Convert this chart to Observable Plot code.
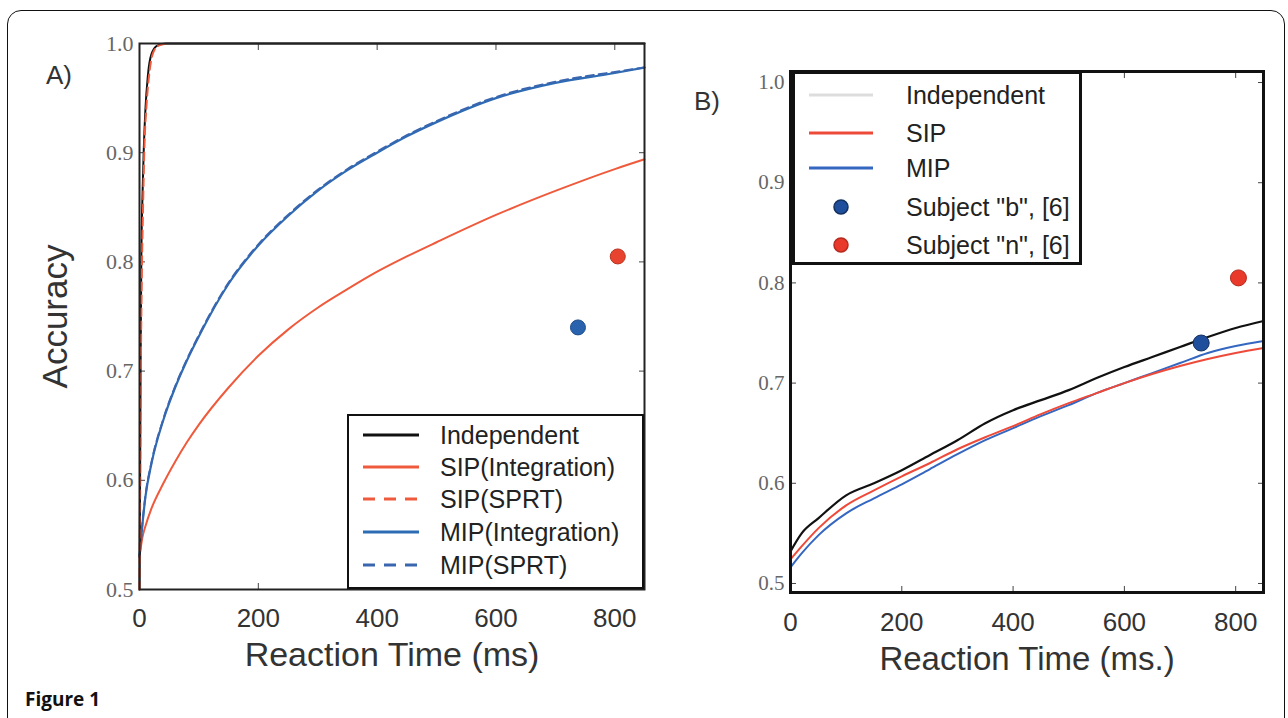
<!DOCTYPE html>
<html><head><meta charset="utf-8">
<script src="https://cdn.jsdelivr.net/npm/d3@7"></script>
<script src="https://cdn.jsdelivr.net/npm/@observablehq/plot@0.6"></script>
<style>
html,body{margin:0;padding:0;background:#fff;}
body{width:1288px;height:718px;overflow:hidden;position:relative;font-family:"Liberation Sans",Arial,sans-serif;}
#frame{position:absolute;left:7px;top:10px;width:1276px;height:800px;border:1.5px solid #111;border-radius:14px;}
#a,#b{position:absolute;top:0}
#a{left:0}
#b{left:660px}
.plab{position:absolute;font-size:26px;color:#333;}
.legend{position:absolute;background:#fff;box-sizing:border-box;}
.row{position:absolute;left:0;height:30px;width:100%;}
.row svg{position:absolute;top:0}
.row span{position:absolute;top:0;line-height:30px;font-size:25px;color:#222;white-space:nowrap;}
#cap{position:absolute;left:25px;top:686px;font-family:"Open Sans",sans-serif;font-weight:bold;font-size:19px;color:#111;}
</style>
</head><body>
<div id="frame"></div>
<div id="a"></div>
<div id="b"></div>
<div class="plab" style="left:46px;top:60px;">A)</div>
<div class="plab" style="left:694px;top:86px;">B)</div>
<div id="legA" class="legend"></div>
<div id="legB" class="legend"></div>
<div id="cap">Figure 1</div>
<script>
// ---------- Panel A data ----------
const indepT_A   = [0, 1, 2, 3, 5, 7, 10, 14, 20, 30, 45, 850];
const indepAcc_A = [0.5, 0.6, 0.72, 0.8, 0.86, 0.9, 0.94, 0.97, 0.99, 0.998, 1.0, 1.0];
const sipSprtT_A   = [0, 1, 2, 4, 6, 8, 12, 16, 22, 32, 50];
const sipSprtAcc_A = [0.5, 0.58, 0.68, 0.79, 0.85, 0.9, 0.945, 0.97, 0.99, 0.998, 1.0];
const curveT_A = [0, 5, 10, 20, 40, 60, 80, 100, 150, 200, 250, 300, 350, 400, 450, 500, 600, 700, 800, 850];
const sipIntAcc_A = [0.53, 0.548, 0.558, 0.574, 0.597, 0.617, 0.635, 0.651, 0.685, 0.714, 0.738, 0.758, 0.775, 0.791, 0.805, 0.818, 0.843, 0.865, 0.885, 0.894];
const mipIntAcc_A = [0.53, 0.56, 0.585, 0.615, 0.655, 0.685, 0.71, 0.732, 0.78, 0.815, 0.842, 0.865, 0.884, 0.9, 0.915, 0.928, 0.95, 0.964, 0.973, 0.978];
const mipSprtAcc_A = [0.53, 0.561, 0.586, 0.616, 0.656, 0.686, 0.711, 0.733, 0.781, 0.816, 0.843, 0.866, 0.885, 0.901, 0.916, 0.929, 0.951, 0.965, 0.974, 0.978];

// ---------- Panel B data ----------
const curveT_B = [0, 20, 50, 100, 150, 200, 250, 300, 350, 400, 450, 500, 550, 600, 650, 700, 750, 800, 850];
const indepAcc_B = [0.532, 0.55, 0.565, 0.588, 0.6, 0.613, 0.628, 0.643, 0.66, 0.673, 0.683, 0.693, 0.705, 0.716, 0.726, 0.736, 0.746, 0.755, 0.762];
const sipAcc_B   = [0.524, 0.537, 0.555, 0.578, 0.593, 0.607, 0.62, 0.634, 0.646, 0.657, 0.669, 0.68, 0.69, 0.7, 0.709, 0.717, 0.724, 0.73, 0.735];
const mipAcc_B   = [0.516, 0.53, 0.548, 0.57, 0.585, 0.599, 0.614, 0.629, 0.643, 0.655, 0.667, 0.678, 0.69, 0.7, 0.71, 0.72, 0.73, 0.737, 0.742];

// ---------- Subjects ----------
const subjects = ["b", "n"];
const subjectRT = [738, 805];
const subjectAcc = [0.74, 0.805];

// ---------- Ticks ----------
const xTicks = [0, 200, 400, 600, 800];
const yTicks = [0.5, 0.6, 0.7, 0.8, 0.9, 1.0];

const toRows = (T, A) => T.map((t, i) => ({t, acc: A[i]}));
const subj = subjects.map((s, i) => ({s, t: subjectRT[i], acc: subjectAcc[i]}));

const red = "#ef5a3c", blue = "#2d6cb4", black = "#111";

function axes(fontTick, serifSize, pad) {
  return [
    Plot.axisY({ticks: yTicks, tickSize: 0, tickPadding: 6, tickFormat: d3.format(".1f"),
      fontSize: serifSize, fontFamily: "Liberation Serif, serif", fill: "#666", label: null}),
    Plot.axisY({anchor: "left", ticks: yTicks, tickSize: 6, text: null, dx: 6, stroke: "#444", label: null}),
    Plot.axisY({anchor: "right", ticks: yTicks, tickSize: 6, text: null, dx: -6, stroke: "#444", label: null}),
    Plot.axisX({ticks: xTicks, tickSize: 0, tickPadding: pad, fontSize: fontTick, fill: "#333", label: null}),
    Plot.axisX({anchor: "bottom", ticks: xTicks, tickSize: 6, text: null, dy: -6, stroke: "#444", label: null}),
    Plot.axisX({anchor: "top", ticks: xTicks, tickSize: 6, text: null, dy: 6, stroke: "#444", label: null})
  ];
}

const plotA = Plot.plot({
  width: 660, height: 690,
  marginLeft: 139, marginRight: 16, marginTop: 43, marginBottom: 101,
  x: {domain: [0, 850]},
  y: {domain: [0.5, 1.0]},
  style: {background: "transparent", overflow: "visible", fontFamily: "Liberation Sans, Arial, sans-serif"},
  marks: [
    ...axes(26, 22, 19),
    Plot.line(toRows(curveT_A, sipIntAcc_A), {x: "t", y: "acc", stroke: red, strokeWidth: 2, curve: "monotone-x"}),
    Plot.line(toRows(curveT_A, mipIntAcc_A), {x: "t", y: "acc", stroke: blue, strokeWidth: 2.2, curve: "monotone-x"}),
    Plot.line(toRows(curveT_A, mipSprtAcc_A), {x: "t", y: "acc", stroke: "#3a66b0", strokeWidth: 2, strokeDasharray: "8,5", curve: "monotone-x"}),
    Plot.line(toRows(indepT_A, indepAcc_A), {x: "t", y: "acc", stroke: black, strokeWidth: 2, curve: "monotone-x"}),
    Plot.line(toRows(sipSprtT_A, sipSprtAcc_A), {x: "t", y: "acc", stroke: red, strokeWidth: 2, strokeDasharray: "8,5", curve: "monotone-x"}),
    Plot.dot(subj, {x: "t", y: "acc", r: 7.5, fill: d => d.s === "b" ? "#2a63ad" : "#e8432e", stroke: d => d.s === "b" ? "#1d4d8c" : "#b8321f", strokeWidth: 1}),
    Plot.frame({stroke: "#222", strokeWidth: 2}),
    Plot.text(["Accuracy"], {frameAnchor: "left", textAnchor: "middle", dx: -84, rotate: -90, fontSize: 35, fill: "#333"}),
    Plot.text(["Reaction Time (ms)"], {frameAnchor: "bottom", dy: 76, fontSize: 34, fill: "#333"})
  ]
});
document.getElementById("a").append(plotA);

const plotB = Plot.plot({
  width: 628, height: 690,
  marginLeft: 130, marginRight: 25, marginTop: 71, marginBottom: 98,
  x: {domain: [0, 850]},
  y: {domain: [0.491, 1.011]},
  style: {background: "transparent", overflow: "visible", fontFamily: "Liberation Sans, Arial, sans-serif"},
  marks: [
    ...axes(26, 21, 20),
    Plot.line(toRows(curveT_B, mipAcc_B), {x: "t", y: "acc", stroke: "#3566c0", strokeWidth: 2, curve: "monotone-x"}),
    Plot.line(toRows(curveT_B, sipAcc_B), {x: "t", y: "acc", stroke: "#ee4a3a", strokeWidth: 2, curve: "monotone-x"}),
    Plot.line(toRows(curveT_B, indepAcc_B), {x: "t", y: "acc", stroke: black, strokeWidth: 2.2, curve: "monotone-x"}),
    Plot.dot(subj, {x: "t", y: "acc", r: 8, fill: d => d.s === "b" ? "#1f4f9c" : "#e8392a", stroke: d => d.s === "b" ? "#13305f" : "#b52a1e", strokeWidth: 1}),
    Plot.frame({stroke: "#111", strokeWidth: 3}),
    Plot.text(["Reaction Time (ms.)"], {frameAnchor: "bottom", dy: 77, fontSize: 33, fill: "#333"})
  ]
});
document.getElementById("b").append(plotB);

// ---------- Legends ----------
const legendA = [
  {label: "Independent", color: black, dash: null},
  {label: "SIP(Integration)", color: red, dash: null},
  {label: "SIP(SPRT)", color: red, dash: "12,9"},
  {label: "MIP(Integration)", color: blue, dash: null},
  {label: "MIP(SPRT)", color: "#3a66b0", dash: "12,9"}
];
const legendB = [
  {label: "Independent", color: "#ddd", kind: "line"},
  {label: "SIP", color: "#ee4a3a", kind: "line"},
  {label: "MIP", color: "#3566c0", kind: "line"},
  {label: "Subject \"b\", [6]", color: "#1f4f9c", edge: "#13305f", kind: "dot"},
  {label: "Subject \"n\", [6]", color: "#e8392a", edge: "#b52a1e", kind: "dot"}
];

function buildLegend(el, box, items, rowTops, sample, textLeft) {
  Object.assign(el.style, {left: box.left + "px", top: box.top + "px", width: box.w + "px", height: box.h + "px", border: box.bw + "px solid #111"});
  items.forEach((it, i) => {
    const row = document.createElement("div");
    row.className = "row";
    row.style.top = (rowTops[i] - 15 - box.bw) + "px";
    let s;
    if (it.kind === "dot") {
      s = `<svg width="${sample.x2 + 10}" height="30"><circle cx="${(sample.x1 + sample.x2) / 2}" cy="15" r="7" fill="${it.color}" stroke="${it.edge}" stroke-width="1.5"/></svg>`;
    } else {
      s = `<svg width="${sample.x2 + 10}" height="30"><line x1="${sample.x1}" x2="${sample.x2}" y1="15" y2="15" stroke="${it.color}" stroke-width="3" ${it.dash ? `stroke-dasharray="${it.dash}"` : ""}/></svg>`;
    }
    row.innerHTML = s + `<span style="left:${textLeft}px">${it.label.replace(/"/g, "&quot;")}</span>`;
    el.append(row);
  });
}
buildLegend(document.getElementById("legA"), {left: 347, top: 414, w: 297, h: 175, bw: 2},
  legendA, [21, 53, 85, 118, 151], {x1: 14, x2: 70}, 91);
buildLegend(document.getElementById("legB"), {left: 792, top: 71, w: 290, h: 194, bw: 3},
  legendB, [24, 62, 97, 136, 174], {x1: 14, x2: 78}, 111);
</script>
</body></html>
